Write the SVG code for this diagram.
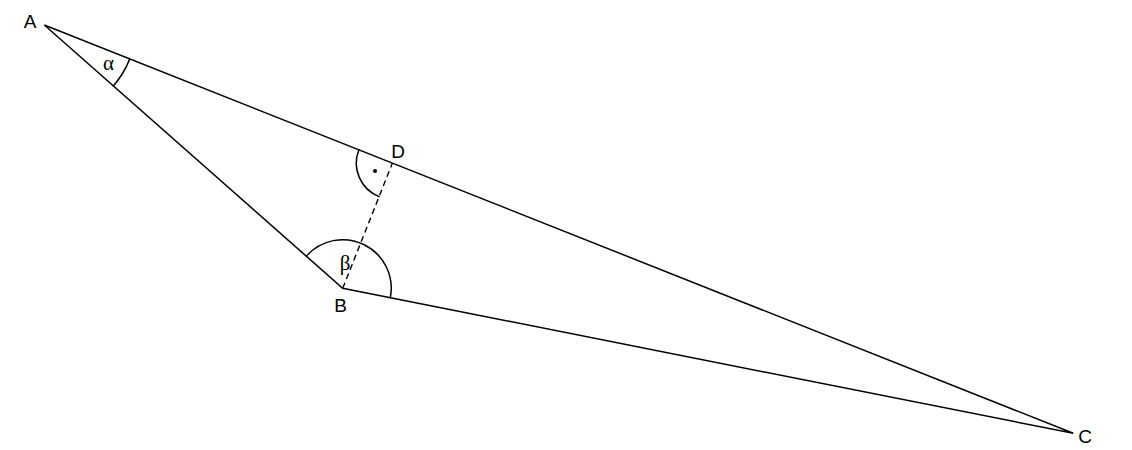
<svg xmlns="http://www.w3.org/2000/svg" width="1132" height="450" viewBox="0 0 1132 450">
<style>
.ln{stroke:#000;stroke-width:1.5;fill:none;stroke-linecap:round}
.ds{stroke:#000;stroke-width:1.4;fill:none;stroke-dasharray:6 4}
.lb{font-family:"Liberation Sans",Arial,sans-serif;font-size:19px;fill:#000}
.gk{font-family:"Liberation Serif","Times New Roman",serif;font-size:21px;fill:#000}
</style>
<rect width="1132" height="450" fill="#fff"/>
<g id="connectors">
<path class="ln" d="M44.3,25 L342.7,288.3 L1073.3,433.3 Z"/>
<path class="ds" d="M342.7,288.3 L392.4,163.1"/>
</g>
<g id="angle-alpha">
<path class="ln" d="M129.8,58.9 A92,92 0 0 1 113.3,85.9"/>
<text class="gk" x="108.5" y="69.5" text-anchor="middle">α</text>
</g>
<g id="angle-right">
<path class="ln" d="M358.9,149.8 A36,36 0 0 0 379.1,196.6"/>
<circle cx="375" cy="171" r="2" fill="#000"/>
</g>
<g id="angle-beta">
<path class="ln" d="M306.3,256.2 A48.5,48.5 0 0 1 390.3,297.7"/>
<text class="gk" x="345" y="270" text-anchor="middle">β</text>
</g>
<g id="node-A"><text class="lb" x="30" y="28" text-anchor="middle">A</text></g>
<g id="node-B"><text class="lb" x="340.5" y="311.5" text-anchor="middle">B</text></g>
<g id="node-C"><text class="lb" x="1085" y="443" text-anchor="middle">C</text></g>
<g id="node-D"><text class="lb" x="398" y="158" text-anchor="middle">D</text></g>
</svg>
